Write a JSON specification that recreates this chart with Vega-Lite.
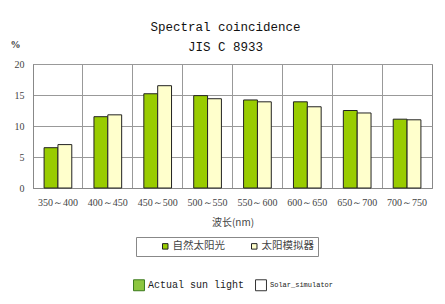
{
  "$schema": "https://vega.github.io/schema/vega-lite/v6.json",
  "autosize": {"type": "none"},
  "width": 399,
  "height": 124,
  "padding": {"left": 33, "top": 64, "right": 13, "bottom": 116},
  "background": "white",
  "title": {
    "text": ["Spectral coincidence", "JIS C 8933"],
    "font": "Liberation Mono",
    "fontSize": 12.5,
    "fontWeight": "normal",
    "color": "#111",
    "lineHeight": 20,
    "anchor": "middle",
    "frame": "group",
    "offset": 8,
    "dx": -7,
    "dy": 22
  },
  "data": {
    "values": [
      {"range": "350～400", "cn": "自然太阳光", "en": "Actual sun light", "value": 6.5},
      {"range": "350～400", "cn": "太阳模拟器", "en": "Solar_simulator", "value": 7.0},
      {"range": "400～450", "cn": "自然太阳光", "en": "Actual sun light", "value": 11.5},
      {"range": "400～450", "cn": "太阳模拟器", "en": "Solar_simulator", "value": 11.8},
      {"range": "450～500", "cn": "自然太阳光", "en": "Actual sun light", "value": 15.2},
      {"range": "450～500", "cn": "太阳模拟器", "en": "Solar_simulator", "value": 16.5},
      {"range": "500～550", "cn": "自然太阳光", "en": "Actual sun light", "value": 14.9},
      {"range": "500～550", "cn": "太阳模拟器", "en": "Solar_simulator", "value": 14.4},
      {"range": "550～600", "cn": "自然太阳光", "en": "Actual sun light", "value": 14.2},
      {"range": "550～600", "cn": "太阳模拟器", "en": "Solar_simulator", "value": 13.9},
      {"range": "600～650", "cn": "自然太阳光", "en": "Actual sun light", "value": 13.9},
      {"range": "600～650", "cn": "太阳模拟器", "en": "Solar_simulator", "value": 13.1},
      {"range": "650～700", "cn": "自然太阳光", "en": "Actual sun light", "value": 12.5},
      {"range": "650～700", "cn": "太阳模拟器", "en": "Solar_simulator", "value": 12.1},
      {"range": "700～750", "cn": "自然太阳光", "en": "Actual sun light", "value": 11.1},
      {"range": "700～750", "cn": "太阳模拟器", "en": "Solar_simulator", "value": 11.0}
    ]
  },
  "encoding": {
    "x": {
      "field": "range",
      "type": "nominal",
      "sort": null,
      "scale": {"paddingInner": 0, "paddingOuter": 0},
      "axis": {
        "title": "波长(nm)",
        "titleFont": "Noto Sans CJK SC",
        "titleFontSize": 10,
        "titleFontWeight": "normal",
        "titleColor": "#444",
        "titlePadding": 10,
        "labelAngle": 0,
        "labelFont": "Liberation Serif",
        "labelFontSize": 10,
        "labelColor": "#444",
        "labelPadding": 9,
        "bandPosition": 0,
        "grid": true,
        "gridColor": "#999",
        "ticks": false,
        "domainColor": "#888"
      }
    },
    "y": {
      "field": "value",
      "type": "quantitative",
      "scale": {"domain": [0, 20]},
      "axis": {
        "values": [0, 5, 10, 15, 20],
        "title": "%",
        "titleAngle": 0,
        "titleX": -18,
        "titleY": -20,
        "titleAlign": "center",
        "titleBaseline": "middle",
        "titleFont": "Liberation Serif",
        "titleFontSize": 10,
        "titleFontWeight": "bold",
        "titleColor": "#333",
        "labelFont": "Liberation Serif",
        "labelFontSize": 10,
        "labelColor": "#444",
        "labelPadding": 9,
        "ticks": false,
        "gridColor": "#999",
        "domainColor": "#888"
      }
    }
  },
  "layer": [
    {
      "mark": {"type": "bar", "stroke": "#222", "strokeWidth": 1},
      "encoding": {
        "xOffset": {
          "field": "cn",
          "type": "nominal",
          "sort": ["自然太阳光", "太阳模拟器"],
          "scale": {"paddingInner": 0, "paddingOuter": 0.8}
        },
        "fill": {
          "field": "cn",
          "type": "nominal",
          "sort": ["自然太阳光", "太阳模拟器"],
          "scale": {"domain": ["自然太阳光", "太阳模拟器"], "range": ["#99cc00", "#ffffcc"]},
          "legend": {
            "title": null,
            "orient": "none",
            "legendX": 103,
            "legendY": 173,
            "direction": "horizontal",
            "strokeColor": "#888",
            "fillColor": "white",
            "padding": 4,
            "labelFont": "Noto Sans CJK SC",
            "labelFontSize": 10.5,
            "labelColor": "#444",
            "symbolType": "square",
            "symbolSize": 30,
            "symbolStrokeColor": "#222",
            "symbolStrokeWidth": 1,
            "symbolOffset": 20,
            "columnPadding": 4,
            "labelOffset": 2
          }
        }
      }
    },
    {
      "mark": {"type": "bar", "opacity": 0},
      "encoding": {
        "xOffset": {
          "field": "cn",
          "type": "nominal",
          "sort": ["自然太阳光", "太阳模拟器"]
        },
        "fill": {
          "field": "en",
          "type": "nominal",
          "scale": {"domain": ["Actual sun light", "Solar_simulator"], "range": ["#8dc63f", "#ffffff"]},
          "legend": {
            "title": null,
            "orient": "none",
            "legendX": 100,
            "legendY": 215,
            "direction": "horizontal",
            "labelFont": "Liberation Mono",
            "labelFontSize": {"expr": "datum.label === 'Solar_simulator' ? 7 : 10"},
            "labelColor": "#222",
            "symbolType": "square",
            "symbolSize": 120,
            "symbolStrokeWidth": 1,
            "symbolStrokeColor": {"expr": "datum.label === 'Actual sun light' ? '#3c7a1e' : '#333333'"},
            "symbolOpacity": 1,
            "columnPadding": 8,
            "labelOffset": 3
          }
        }
      }
    }
  ],
  "resolve": {"scale": {"fill": "independent"}, "legend": {"fill": "independent"}},
  "config": {
    "view": {"stroke": "#888"},
    "axis": {"gridColor": "#999"}
  }
}
